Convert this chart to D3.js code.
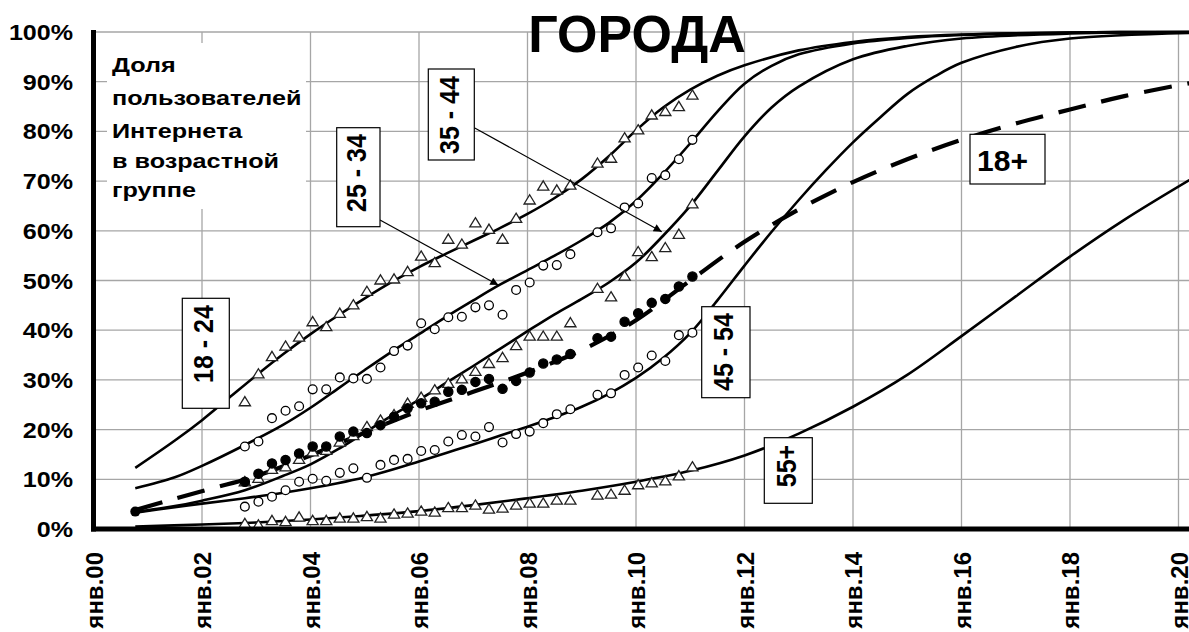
<!DOCTYPE html>
<html>
<head>
<meta charset="utf-8">
<script src="https://cdnjs.cloudflare.com/ajax/libs/d3/7.8.5/d3.min.js"></script>
<style>
  body { margin: 0; background: #fff; }
  svg { display: block; }
  text { font-family: "Liberation Sans", Arial, sans-serif; font-weight: bold; fill: #000; }
</style>
</head>
<body>
<div id="chart"></div>
<script>
// --- data (years since Jan 2000, percent) ---
const xTicks = [0, 2, 4, 6, 8, 10, 12, 14, 16, 18, 20];
const xTickLabels = ["янв.00", "янв.02", "янв.04", "янв.06", "янв.08", "янв.10", "янв.12", "янв.14", "янв.16", "янв.18", "янв.20"];
const yTicks = [0, 10, 20, 30, 40, 50, 60, 70, 80, 90, 100];
const yTickLabels = ["0%", "10%", "20%", "30%", "40%", "50%", "60%", "70%", "80%", "90%", "100%"];

// survey waves (quarterly)
const waves = [2.79, 3.04, 3.29, 3.54, 3.79, 4.04, 4.29, 4.54, 4.79, 5.04, 5.29, 5.54, 5.79, 6.04, 6.29, 6.54, 6.79,
  7.04, 7.29, 7.54, 7.79, 8.04, 8.29, 8.54, 8.79, 9.04, 9.29, 9.54, 9.79, 10.04, 10.29, 10.54, 10.79, 11.04];

const obs1824 = [25.6, 31.2, 34.7, 36.8, 38.6, 41.7, 40.7, 43.4, 45.1, 47.8, 50.1, 50.3, 51.8, 54.9, 53.6, 58.3, 57.3,
  61.6, 60.3, 58.3, 62.5, 66.2, 69.0, 68.2, 69.2, null, 73.6, 74.6, 78.7, 80.3, 83.3, 84.0, 85.0, 87.3];
const obs2534 = [16.6, 17.6, 22.3, 23.8, 24.7, 28.1, 28.1, 30.5, 30.3, 30.2, 32.5, 35.8, 36.9, 41.4, 40.2, 42.6, 42.7,
  44.6, 45.0, 43.1, 48.1, 49.6, 53.0, 53.1, 55.3, null, 59.7, 60.5, 64.7, 65.5, 70.6, 71.2, 74.4, 78.3];
const obs3544 = [9.5, 10.2, 12.0, 12.5, 14.0, 15.5, 15.8, 17.5, 18.8, 20.6, 21.9, 23.0, 25.3, 26.5, 28.0, 29.3, 30.2,
  31.7, 33.3, 34.5, 36.9, 38.8, 38.8, 38.8, 41.5, null, 48.4, 46.7, 50.9, 55.8, 54.8, 56.6, 59.3, 65.4];
const obs4554 = [4.5, 5.5, 6.5, 7.8, 9.5, 10.1, 9.7, 11.3, 12.2, 10.3, 12.9, 13.9, 14.1, 15.7, 15.9, 17.6, 18.9,
  18.6, 20.5, 17.4, 19.1, 19.6, 21.3, 23.1, 24.1, null, 27.0, 27.3, 31.0, 32.5, 34.9, 33.8, 39.0, 39.5];
const obs55 = [1.1, 0.8, 1.7, 1.5, 2.4, 1.7, 1.7, 2.2, 2.2, 2.5, 2.2, 3.0, 3.2, 3.6, 3.4, 4.3, 4.3,
  4.8, 4.0, 4.2, 4.8, 5.2, 5.2, 5.8, 5.8, null, 6.8, 7.0, 7.8, 8.9, 9.3, 9.7, 10.7, 12.5];
const obs18 = [9.5, 11.1, 13.2, 13.9, 15.2, 16.6, 16.6, 18.6, 19.6, 19.3, 20.9, 22.6, 24.3, 25.3, 25.6, 27.6, 28.0,
  29.6, 30.2, 28.2, 29.8, 31.5, 33.3, 34.1, 35.2, null, 38.4, 38.7, 41.7, 43.4, 45.5, 46.3, 48.8, 50.8];
const obs18First = [0.77, 3.5];

// fitted curves
const fit1824 = [[0.77, 12.3], [1.5, 17.8], [2, 21.9], [2.5, 26.4], [3, 30.9], [3.5, 35.2], [4, 39.2], [4.5, 42.9],
  [5, 46.4], [5.5, 49.7], [6, 52.7], [6.5, 55.4], [7, 58], [7.5, 60.6], [8, 63.4], [8.5, 66.6], [9, 70.4], [9.5, 75],
  [10, 80.2], [10.5, 84.8], [11, 88.4], [11.5, 91.2], [12, 93.3], [13, 96.3], [14, 98], [15, 99], [16, 99.5], [18, 99.9],
  [20.2, 100]];
const fit2534 = [[0.77, 8.2], [1.5, 10.4], [2, 12.7], [2.79, 16.9], [3.5, 21], [4, 24.4], [4.5, 28.2], [5, 32],
  [5.5, 35.7], [6, 39.2], [6.5, 42.7], [7, 46], [7.5, 49.2], [8, 52.1], [8.5, 55], [9, 58.1], [9.5, 61.6], [10, 66],
  [10.5, 71.5], [11, 77.6], [11.5, 84], [12, 89.6], [12.5, 93.2], [13, 95.5], [14, 97.7], [15, 98.8], [16, 99.4],
  [18, 99.9], [20.2, 100]];
const fit3544 = [[0.77, 3.4], [1.5, 4.6], [2, 5.7], [2.79, 7.8], [3.5, 10.7], [4, 13], [4.5, 16], [5, 19.4], [5.5, 22.8],
  [6, 26], [6.5, 29.4], [7, 32.8], [7.5, 36.3], [8, 39.8], [8.5, 43.2], [9, 46.3], [9.5, 49.6], [10, 53.6], [10.5, 59],
  [11, 65], [11.5, 72], [12, 79], [12.5, 84.8], [13, 89], [14, 94.5], [15, 97.2], [16, 98.7], [18, 99.7], [20.2, 100]];
const fit4554 = [[0.77, 3.3], [1.5, 4.4], [2, 5.1], [2.79, 6.2], [3.5, 7.3], [4, 8.2], [4.5, 9.2], [5, 10.4], [5.5, 11.9],
  [6, 13.6], [6.5, 15.3], [7, 17], [7.5, 18.8], [8, 20.6], [8.5, 22.5], [9, 24.6], [9.5, 27.2], [10, 30.4], [10.5, 34.4],
  [11, 39.4], [11.5, 46], [12, 53], [12.5, 59.8], [13, 66.2], [13.5, 72.2], [14, 77.8], [14.5, 82.8], [15, 87.5],
  [15.5, 91], [16, 93.8], [17, 97], [18, 98.7], [20.2, 99.8]];
const fit55 = [[0.77, 0.5], [2, 0.9], [3, 1.3], [4, 1.9], [5, 2.7], [6, 3.6], [7, 4.8], [8, 6.2], [9, 7.7], [10, 9.5],
  [11, 11.7], [12, 14.8], [13, 19.2], [14, 24.6], [15, 31], [16, 38.8], [17, 46.8], [18, 54.8], [19, 62.2], [20.2, 70.2]];
const fit18 = [[0.77, 3.8], [1.4, 5.8], [2.2, 8.2], [3.07, 10.9], [4, 14.8], [5, 19.4], [6, 23.8], [7, 27.6], [8, 31.5],
  [9, 36], [10, 42], [11, 50], [12, 57.8], [13, 64.3], [14, 69.8], [15, 74.4], [16, 78.3], [17, 81.6], [18, 84.4],
  [19, 87.1], [20.2, 89.7]];

// --- drawing ---
const W = 1189, H = 632;
const svg = d3.select("#chart").append("svg").attr("width", W).attr("height", H);

const x = d3.scaleLinear().domain([0, 20]).range([93.5, 1178.5]);
const y = d3.scaleLinear().domain([0, 100]).range([529, 32]);
const xEnd = W;

// grid
const grid = svg.append("g").attr("stroke", "#a6a6a6").attr("stroke-width", 1.3);
grid.selectAll("line.h").data(yTicks.filter(d => d > 0)).enter().append("line")
  .attr("x1", x(0)).attr("x2", xEnd).attr("y1", d => y(d)).attr("y2", d => y(d));
grid.selectAll("line.v").data(xTicks.filter(d => d > 0)).enter().append("line")
  .attr("x1", d => x(d)).attr("x2", d => x(d)).attr("y1", y(100)).attr("y2", y(0));

// white block behind the caption
svg.append("rect").attr("x", 107).attr("y", 43).attr("width", 199).attr("height", 166).attr("fill", "#fff");

// fitted curves
const line = d3.line().x(d => x(d[0])).y(d => y(d[1])).curve(d3.curveCatmullRom.alpha(0.5));
const curves = svg.append("g").attr("fill", "none").attr("stroke", "#000");
[fit1824, fit2534, fit3544, fit4554, fit55].forEach(c => {
  curves.append("path").attr("d", line(c)).attr("stroke-width", 2.6);
});
curves.append("path").attr("d", line(fit18)).attr("stroke-width", 4.2).attr("stroke-dasharray", "28,16");

// markers
const triPath = "M0,-5.2L5.6,4L-5.6,4Z";
function pts(vals) {
  return waves.map((w, i) => [w, vals[i]]).filter(d => d[1] != null);
}
function triangles(vals) {
  svg.append("g").selectAll("path").data(pts(vals)).enter().append("path")
    .attr("d", triPath)
    .attr("transform", d => `translate(${x(d[0])},${y(d[1])})`)
    .attr("fill", "#fff").attr("stroke", "#222").attr("stroke-width", 1.3);
}
function circles(vals, filled) {
  svg.append("g").selectAll("circle").data(pts(vals)).enter().append("circle")
    .attr("cx", d => x(d[0])).attr("cy", d => y(d[1])).attr("r", filled ? 4.6 : 4.4)
    .attr("fill", filled ? "#000" : "#fff").attr("stroke", "#000").attr("stroke-width", 1.3);
}
triangles(obs55);
circles(obs4554, false);
triangles(obs3544);
circles(obs18, true);
circles(obs2534, false);
triangles(obs1824);
svg.append("circle").attr("cx", x(obs18First[0])).attr("cy", y(obs18First[1])).attr("r", 5).attr("fill", "#000");

// axes
svg.append("line").attr("x1", x(0)).attr("x2", x(0)).attr("y1", y(100) - 2).attr("y2", y(0) + 2.5)
  .attr("stroke", "#000").attr("stroke-width", 5);
svg.append("line").attr("x1", x(0) - 2.5).attr("x2", xEnd).attr("y1", y(0)).attr("y2", y(0))
  .attr("stroke", "#000").attr("stroke-width", 5);

// y tick labels
svg.append("g").selectAll("text").data(yTicks).enter().append("text")
  .attr("transform", d => `translate(73,${y(d) + 8}) scale(1.14,1)`)
  .attr("text-anchor", "end").attr("font-size", 22)
  .text((d, i) => yTickLabels[i]);

// x tick labels (rotated)
svg.append("g").selectAll("text").data(xTicks).enter().append("text")
  .attr("transform", d => `translate(${x(d) + 9},552) rotate(-90)`)
  .attr("text-anchor", "end").attr("font-size", 24)
  .text((d, i) => xTickLabels[i]);

// title
svg.append("text").attr("x", 637).attr("y", 52).attr("text-anchor", "middle")
  .attr("font-size", 52).text("ГОРОДА");

// caption
const caption = ["Доля", "пользователей", "Интернета", "в возрастной", "группе"];
const captionY = [72, 105, 138, 168, 197];
svg.append("g").selectAll("text").data(caption).enter().append("text")
  .attr("transform", (d, i) => `translate(112,${captionY[i]}) scale(1.2,1)`)
  .attr("font-size", 21).text(d => d);

// arrows
svg.append("defs").append("marker").attr("id", "arr")
  .attr("viewBox", "0 0 10 10").attr("refX", 10).attr("refY", 5)
  .attr("markerWidth", 11).attr("markerHeight", 8).attr("markerUnits", "userSpaceOnUse")
  .attr("orient", "auto")
  .append("path").attr("d", "M0,0L10,5L0,10Z").attr("fill", "#000");
const arrows = [[380, 220, 498.3, 285], [474.3, 127.7, 661.7, 231.7]];
svg.append("g").selectAll("line").data(arrows).enter().append("line")
  .attr("x1", d => d[0]).attr("y1", d => d[1]).attr("x2", d => d[2]).attr("y2", d => d[3])
  .attr("stroke", "#000").attr("stroke-width", 1.2).attr("marker-end", "url(#arr)");

// label boxes (cy = centre of the text along the box)
const boxes = [
  { t: "18 - 24", x: 182.3, y: 298.3, w: 47, h: 110, cy: 344, rot: true },
  { t: "25 - 34", x: 336.7, y: 127.7, w: 43.3, h: 99, cy: 173, rot: true },
  { t: "35 - 44", x: 428.3, y: 69, w: 46, h: 91, cy: 115, rot: true },
  { t: "45 - 54", x: 701.7, y: 306.7, w: 48.3, h: 91, cy: 352, rot: true },
  { t: "55+", x: 764.3, y: 437.7, w: 48, h: 65.6, cy: 466, rot: true },
  { t: "18+", x: 970, y: 134.3, w: 75, h: 49.7, cy: 170.5, rot: false }
];
const bg = svg.append("g").selectAll("g").data(boxes).enter().append("g");
bg.append("rect").attr("x", d => d.x).attr("y", d => d.y).attr("width", d => d.w).attr("height", d => d.h)
  .attr("fill", "#fff").attr("stroke", "#000").attr("stroke-width", 1.2);
bg.append("text")
  .attr("transform", d => d.rot
    ? `translate(${d.x + d.w / 2 + 7.5},${d.cy}) scale(1.12,1) rotate(-90)`
    : `translate(${d.x + d.w / 2 - 5},${d.cy})`)
  .attr("text-anchor", "middle").attr("font-size", d => d.rot ? 25 : 30)
  .text(d => d.t);
</script>
</body>
</html>
